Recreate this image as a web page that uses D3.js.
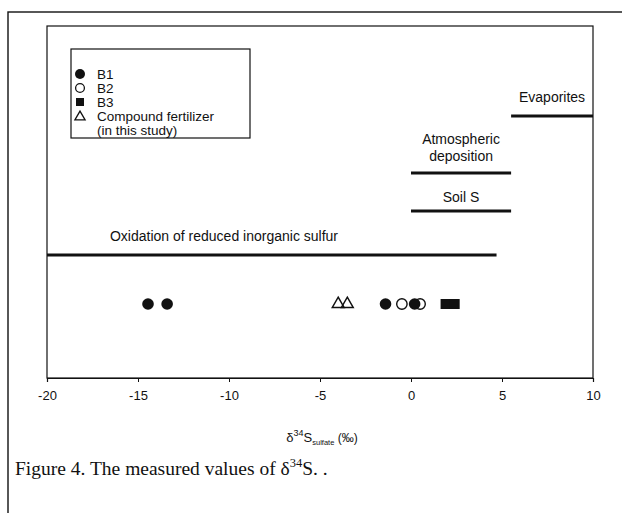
<!DOCTYPE html>
<html><head><meta charset="utf-8">
<script src="https://cdn.jsdelivr.net/npm/d3@7"></script>
<style>body{margin:0;background:#fff}svg{display:block}</style>
</head><body>
<script>
// ---- data ----
const b1Values = [-14.45, -13.4, -1.4, 0.2];
const b2Values = [-0.5, 0.5];
const b3Values = [1.9, 2.4];
const fertilizerValues = [-4.0, -3.5];
const ranges = [
  {name: "Evaporites", lines: ["Evaporites"], from: 5.5, to: 10, level: 0},
  {name: "Atmospheric deposition", lines: ["Atmospheric", "deposition"], from: 0, to: 5.5, level: 1},
  {name: "Soil S", lines: ["Soil S"], from: 0, to: 5.5, level: 2},
  {name: "Oxidation of reduced inorganic sulfur", lines: ["Oxidation of reduced inorganic sulfur"], from: -20, to: 4.7, level: 3}
];
const tickValues = [-20, -15, -10, -5, 0, 5, 10];
const legendItems = ["B1", "B2", "B3", "Compound fertilizer"];

const W = 622, H = 513;
const svg = d3.select("body").append("svg").attr("width", W).attr("height", H);
const sans = "'Liberation Sans', Arial, sans-serif";

// outer frame
svg.append("rect").attr("x", 8).attr("y", 12).attr("width", 640).attr("height", 540)
  .attr("fill", "none").attr("stroke", "#111").attr("stroke-width", 1.4);

const plot = {left: 47, right: 593, top: 26, bottom: 378};
const x = d3.scaleLinear().domain([-20, 10]).range([plot.left, plot.right]);

// plot frame
svg.append("rect").attr("x", plot.left).attr("y", plot.top)
  .attr("width", plot.right - plot.left).attr("height", plot.bottom - plot.top)
  .attr("fill", "none").attr("stroke", "#111").attr("stroke-width", 1.2);

// x axis
const ax = svg.append("g").attr("transform", `translate(0,${plot.bottom})`)
  .call(d3.axisBottom(x).tickValues(tickValues).tickSize(4).tickPadding(9).tickFormat(d => String(d)));
ax.select(".domain").attr("stroke", "#111").attr("stroke-width", 1.2);
ax.selectAll(".tick line").attr("stroke", "#111");
ax.selectAll("text").attr("font-family", sans).attr("font-size", 13).attr("fill", "#111");

// axis title
const t = svg.append("text").attr("x", 322).attr("y", 442).attr("text-anchor", "middle")
  .attr("font-family", sans).attr("font-size", 13).attr("fill", "#111");
t.append("tspan").text("δ");
t.append("tspan").attr("font-size", 9).attr("dy", -6).text("34");
t.append("tspan").attr("font-size", 13).attr("dy", 6).text("S");
t.append("tspan").attr("font-size", 7.5).attr("dy", 3).text("sulfate");
t.append("tspan").attr("font-size", 12).attr("dy", -3).text(" (‰)");

// range lines
const levelLineY = [116, 173, 211, 255];
const levelTextY = [[102], [144, 161], [202], [241]];
ranges.forEach(r => {
  svg.append("line").attr("x1", x(r.from)).attr("x2", x(r.to))
    .attr("y1", levelLineY[r.level]).attr("y2", levelLineY[r.level])
    .attr("stroke", "#111").attr("stroke-width", 3);
  const cx = r.level === 3 ? 224 : (x(r.from) + x(r.to)) / 2;
  r.lines.forEach((ln, i) => {
    svg.append("text").attr("x", cx).attr("y", levelTextY[r.level][i])
      .attr("text-anchor", "middle").attr("font-family", sans).attr("font-size", 14)
      .attr("fill", "#111").text(ln);
  });
});

// data markers
const yPts = 304;
const triangle = d3.symbol().type(d3.symbolTriangle).size(60);
svg.selectAll(".fert").data(fertilizerValues).enter().append("path")
  .attr("d", triangle).attr("transform", d => `translate(${x(d)},${yPts})`)
  .attr("fill", "none").attr("stroke", "#111").attr("stroke-width", 1.5);
svg.selectAll(".b2").data(b2Values).enter().append("circle")
  .attr("cx", d => x(d)).attr("cy", yPts).attr("r", 5.2)
  .attr("fill", "#fff").attr("stroke", "#111").attr("stroke-width", 1.4);
svg.selectAll(".b1").data(b1Values).enter().append("circle")
  .attr("cx", d => x(d)).attr("cy", yPts).attr("r", 5.8).attr("fill", "#111");
svg.selectAll(".b3").data(b3Values).enter().append("rect")
  .attr("x", d => x(d) - 5).attr("y", yPts - 5).attr("width", 10).attr("height", 10).attr("fill", "#111");

// legend
const lg = svg.append("g");
lg.append("rect").attr("x", 71).attr("y", 49).attr("width", 179).attr("height", 89)
  .attr("fill", "#fff").attr("stroke", "#111").attr("stroke-width", 1.2);
const ly = [74, 88, 102, 116];
const mx = 80, tx = 97;
lg.append("circle").attr("cx", mx).attr("cy", ly[0]).attr("r", 5).attr("fill", "#111");
lg.append("circle").attr("cx", mx).attr("cy", ly[1]).attr("r", 4.4).attr("fill", "#fff").attr("stroke", "#111").attr("stroke-width", 1.3);
lg.append("rect").attr("x", mx - 4).attr("y", ly[2] - 4).attr("width", 8).attr("height", 8).attr("fill", "#111");
lg.append("path").attr("d", d3.symbol().type(d3.symbolTriangle).size(45)).attr("transform", `translate(${mx},${ly[3] + 1})`)
  .attr("fill", "none").attr("stroke", "#111").attr("stroke-width", 1.3);
legendItems.forEach((s, i) => {
  lg.append("text").attr("x", tx).attr("y", ly[i] + 4.5).attr("font-family", sans).attr("font-size", 13.5)
    .attr("fill", "#111").text(s);
});
lg.append("text").attr("x", tx).attr("y", ly[3] + 4.5 + 14).attr("font-family", sans).attr("font-size", 13.5)
  .attr("fill", "#111").text("(in this study)");

// caption
const c = svg.append("text").attr("x", 15).attr("y", 475).attr("font-family", "'Liberation Serif', 'Times New Roman', serif")
  .attr("font-size", 19.5).attr("fill", "#111");
c.append("tspan").text("Figure 4. The measured values of δ");
c.append("tspan").attr("font-size", 12.5).attr("dy", -8).text("34");
c.append("tspan").attr("font-size", 19.5).attr("dy", 8).text("S. .");
</script>
</body></html>
